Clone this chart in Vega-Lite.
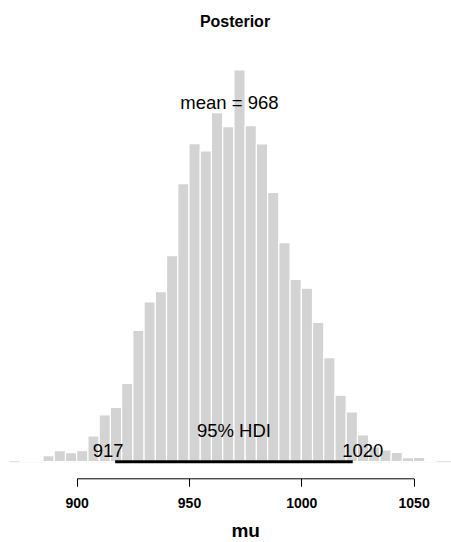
{
  "$schema": "https://vega.github.io/schema/vega-lite/v6.json",
  "width": 451,
  "height": 421.7,
  "autosize": "none",
  "padding": {"left": 0, "right": 0, "top": 40, "bottom": 80.3},
  "background": "white",
  "title": {"text": "Posterior", "fontSize": 16, "fontWeight": "bold", "font": "Liberation Sans", "color": "black", "anchor": "middle", "dx": 9.5, "offset": 10},
  "config": {"view": {"stroke": null}},
  "datasets": {
    "bins": [
      {"bin_start": 875, "bin_end": 880, "count": 1.4},
      {"bin_start": 880, "bin_end": 885, "count": 0.7},
      {"bin_start": 885, "bin_end": 890, "count": 6},
      {"bin_start": 890, "bin_end": 895, "count": 11},
      {"bin_start": 895, "bin_end": 900, "count": 9},
      {"bin_start": 900, "bin_end": 905, "count": 11},
      {"bin_start": 905, "bin_end": 910, "count": 25.7},
      {"bin_start": 910, "bin_end": 915, "count": 46.9},
      {"bin_start": 915, "bin_end": 920, "count": 54.2},
      {"bin_start": 920, "bin_end": 925, "count": 78.4},
      {"bin_start": 925, "bin_end": 930, "count": 131.4},
      {"bin_start": 930, "bin_end": 935, "count": 159.7},
      {"bin_start": 935, "bin_end": 940, "count": 170},
      {"bin_start": 940, "bin_end": 945, "count": 206},
      {"bin_start": 945, "bin_end": 950, "count": 278},
      {"bin_start": 950, "bin_end": 955, "count": 318},
      {"bin_start": 955, "bin_end": 960, "count": 310.7},
      {"bin_start": 960, "bin_end": 965, "count": 349},
      {"bin_start": 965, "bin_end": 970, "count": 335},
      {"bin_start": 970, "bin_end": 975, "count": 391.7},
      {"bin_start": 975, "bin_end": 980, "count": 336},
      {"bin_start": 980, "bin_end": 985, "count": 317.7},
      {"bin_start": 985, "bin_end": 990, "count": 269.4},
      {"bin_start": 990, "bin_end": 995, "count": 219},
      {"bin_start": 995, "bin_end": 1000, "count": 182.4},
      {"bin_start": 1000, "bin_end": 1005, "count": 173.5},
      {"bin_start": 1005, "bin_end": 1010, "count": 139.4},
      {"bin_start": 1010, "bin_end": 1015, "count": 104},
      {"bin_start": 1015, "bin_end": 1020, "count": 66.5},
      {"bin_start": 1020, "bin_end": 1025, "count": 49.7},
      {"bin_start": 1025, "bin_end": 1030, "count": 26.7},
      {"bin_start": 1030, "bin_end": 1035, "count": 14.7},
      {"bin_start": 1035, "bin_end": 1040, "count": 11.7},
      {"bin_start": 1040, "bin_end": 1045, "count": 9.2},
      {"bin_start": 1045, "bin_end": 1050, "count": 4},
      {"bin_start": 1050, "bin_end": 1055, "count": 4.4},
      {"bin_start": 1055, "bin_end": 1060, "count": 1.2}
    ],
    "hdi": [{"lo": 917.1, "hi": 1022.9, "lo_label": "917", "hi_label": "1020", "mid_label": "95% HDI"}],
    "range": [{"from": 870, "to": 1070}],
    "mean": [{"mu": 968, "label": "mean = 968", "maxcount": 391.7}]
  },
  "encoding": {
    "x": {
      "type": "quantitative",
      "scale": {"domain": [900, 1050], "range": [76.7, 413.6], "nice": false, "zero": false},
      "axis": {
        "values": [900, 950, 1000, 1050],
        "format": "d",
        "title": "mu",
        "grid": false,
        "offset": 16.6,
        "domainColor": "black",
        "domainWidth": 1,
        "tickColor": "black",
        "tickSize": 8,
        "labelFont": "Liberation Sans",
        "labelFontSize": 14,
        "labelFontWeight": "bold",
        "labelColor": "black",
        "labelPadding": 10,
        "labelFlush": false,
        "titleFont": "Liberation Sans",
        "titleFontSize": 19,
        "titleFontWeight": "bold",
        "titleColor": "black",
        "titlePadding": 11
      }
    }
  },
  "layer": [
    {
      "data": {"name": "range"},
      "mark": {"type": "rule", "color": "#DDDDDD", "strokeWidth": 1},
      "encoding": {
        "x": {"field": "from", "type": "quantitative"},
        "x2": {"field": "to"},
        "y": {"datum": 0, "type": "quantitative", "scale": {"domain": [0, 421.7], "nice": false}, "axis": null}
      }
    },
    {
      "data": {"name": "bins"},
      "mark": {"type": "rect", "color": "#D3D3D3", "stroke": "white", "strokeWidth": 1.2},
      "encoding": {
        "x": {"field": "bin_start", "type": "quantitative"},
        "x2": {"field": "bin_end"},
        "y": {"field": "count", "type": "quantitative"},
        "y2": {"datum": 0}
      }
    },
    {
      "data": {"name": "hdi"},
      "mark": {"type": "rule", "color": "black", "strokeWidth": 3, "strokeCap": "butt"},
      "encoding": {
        "x": {"field": "lo", "type": "quantitative"},
        "x2": {"field": "hi"},
        "y": {"datum": 0, "type": "quantitative"}
      }
    },
    {
      "data": {"name": "hdi"},
      "transform": [{"calculate": "(datum.lo + datum.hi) / 2", "as": "mid"}],
      "mark": {"type": "text", "font": "Liberation Sans", "fontSize": 18.5, "color": "black", "align": "center", "baseline": "alphabetic", "dy": -25},
      "encoding": {
        "x": {"field": "mid", "type": "quantitative"},
        "y": {"datum": 0, "type": "quantitative"},
        "text": {"field": "mid_label"}
      }
    },
    {
      "data": {"name": "hdi"},
      "mark": {"type": "text", "font": "Liberation Sans", "fontSize": 18.5, "color": "black", "align": "center", "baseline": "alphabetic", "dy": -5, "dx": -7},
      "encoding": {
        "x": {"field": "lo", "type": "quantitative"},
        "y": {"datum": 0, "type": "quantitative"},
        "text": {"field": "lo_label"}
      }
    },
    {
      "data": {"name": "hdi"},
      "mark": {"type": "text", "font": "Liberation Sans", "fontSize": 18.5, "color": "black", "align": "center", "baseline": "alphabetic", "dy": -5, "dx": 10},
      "encoding": {
        "x": {"field": "hi", "type": "quantitative"},
        "y": {"datum": 0, "type": "quantitative"},
        "text": {"field": "hi_label"}
      }
    },
    {
      "data": {"name": "mean"},
      "transform": [{"calculate": "0.9 * datum.maxcount", "as": "ht"}],
      "mark": {"type": "text", "font": "Liberation Sans", "fontSize": 18.5, "color": "black", "align": "center", "baseline": "alphabetic"},
      "encoding": {
        "x": {"field": "mu", "type": "quantitative"},
        "y": {"field": "ht", "type": "quantitative"},
        "text": {"field": "label"}
      }
    }
  ]
}
